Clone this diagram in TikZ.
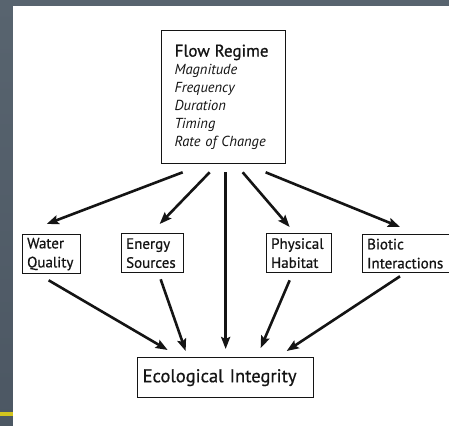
\documentclass[tikz,border=0pt]{standalone}
\usepackage{fontspec}
\setmainfont{PT Sans}
\newfontfamily\heavy{PT Sans}[FakeBold=0.7]
\usetikzlibrary{calc,arrows.meta}
\definecolor{slate}{HTML}{4C5763}
\definecolor{slatetop}{HTML}{58646F}
\definecolor{baryellow}{HTML}{D2C41E}
\definecolor{ink}{HTML}{141414}
\begin{document}
\begin{tikzpicture}[x=1pt,y=-1pt,
  box/.style={draw=ink,line width=1.3pt,anchor=north west,inner ysep=0pt,
    align=left,text=ink},
  smallbox/.style={box,inner xsep=4.5pt,
    font=\heavy\fontsize{15}{19}\selectfont},
  flow/.style={line width=2.6pt,draw=ink,-{Stealth[length=12pt,width=9pt,inset=2pt]}}]
  % slide backdrop
  \useasboundingbox (0,0) rectangle (449,425);
  \shade[top color=slatetop,bottom color=slate] (-1,-1) rectangle (450,426);
  \fill[white] (13,6) rectangle (450,426);
  \fill[baryellow] (0,412) rectangle (13,416);
  % boxes
  \node[box,inner xsep=13pt,text width=98pt,minimum width=124pt,minimum height=133pt,
        font=\fontsize{14.5}{18}\selectfont] (fr) at (161,30)
    {{\heavy\fontsize{17}{18}\selectfont Flow Regime}\\
     \itshape Magnitude\\ \itshape Frequency\\ \itshape Duration\\
     \itshape Timing\\ \itshape Rate of Change};
  \node[smallbox,text width=49pt,minimum height=39pt] (wq) at (22,234) {Water\\Quality};
  \node[smallbox,text width=53pt,minimum height=39pt] (es) at (121,233) {Energy\\Sources};
  \node[smallbox,text width=56pt,minimum height=39pt] (ph) at (266,233) {Physical\\Habitat};
  \node[smallbox,text width=90pt,minimum height=38pt] (bi) at (362,234) {Biotic\\Interactions};
  \node[box,inner xsep=5pt,text width=166pt,minimum height=40pt,
        font=\heavy\fontsize{18.5}{22}\selectfont] (ei) at (137,357) {Ecological Integrity};
  % influences of the flow regime
  \draw[flow] ($(fr.south)+(-41,8)$) -- ($(wq.north)+(-5,-10)$);
  \draw[flow] ($(fr.south)+(-14,8)$) -- ($(es.north)+(7,-9)$);
  \draw[flow] ($(fr.south)+(2,8)$) -- ($(ei.north)+(0,-8)$);
  \draw[flow] ($(fr.south)+(19,8)$) -- ($(ph.north)+(-9.5,-6)$);
  \draw[flow] ($(fr.south)+(42,8)$) -- ($(bi.north west)+(38,-7)$);
  % pathways to ecological integrity
  \draw[flow] ($(wq.south)+(-3,6)$) -- ($(ei.north)+(-58,-7)$);
  \draw[flow] ($(es.south)+(8,6)$) -- ($(ei.north)+(-40,-6)$);
  \draw[flow] ($(ph.south)+(-9.5,7)$) -- ($(ei.north)+(35,-9)$);
  \draw[flow] ($(bi.south west)+(38,3)$) -- ($(ei.north)+(61,-6)$);
\end{tikzpicture}
\end{document}
